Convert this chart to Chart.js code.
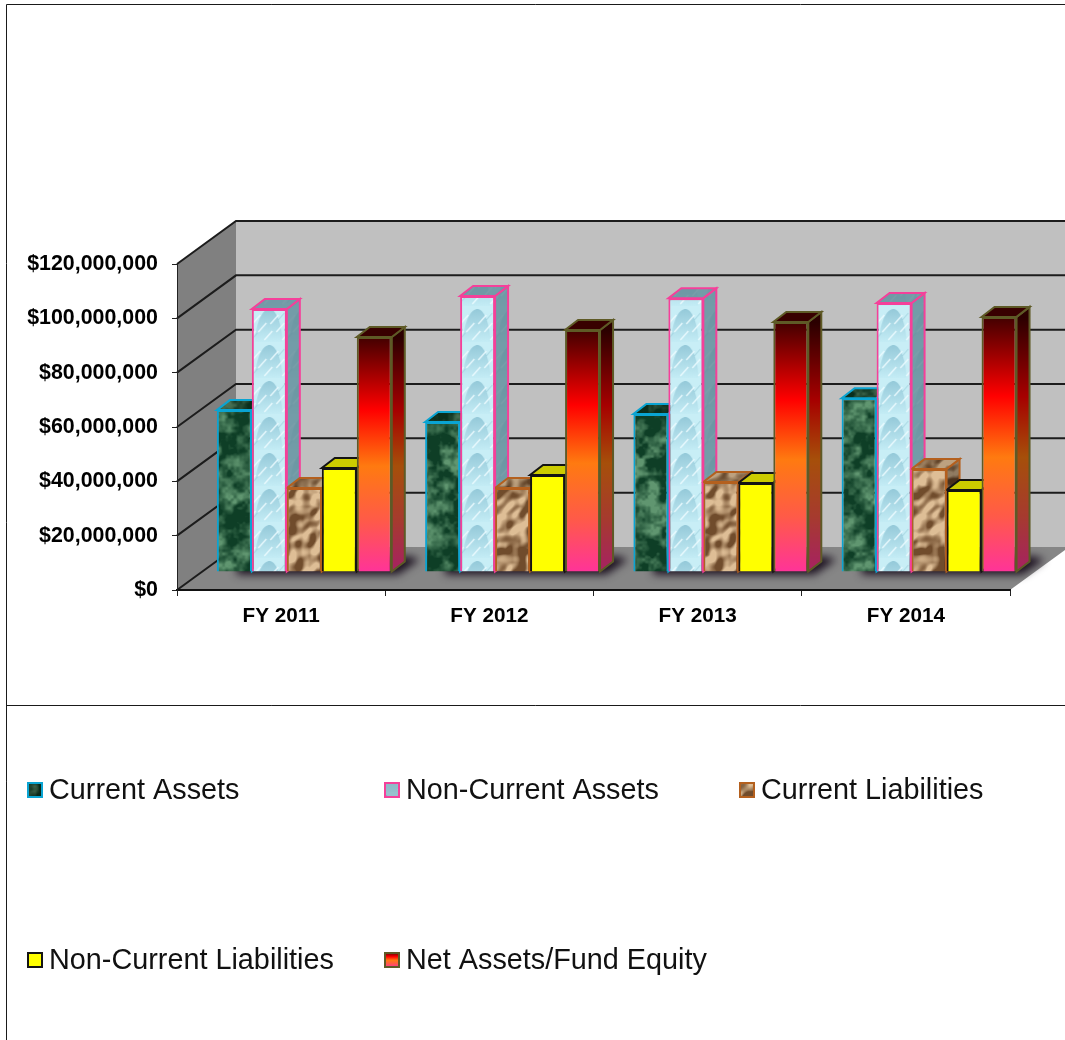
<!DOCTYPE html>
<html>
<head>
<meta charset="utf-8">
<style>html,body{margin:0;padding:0;background:#fff;overflow:hidden}canvas{display:block}</style>
<script src="https://cdn.jsdelivr.net/npm/chart.js@4/dist/chart.umd.js"></script>
</head>
<body>
<canvas id="c" width="1065" height="1040"></canvas>
<script>
const categories = ['FY 2011', 'FY 2012', 'FY 2013', 'FY 2014'];
const currentAssets = [59600000, 55200000, 58200000, 64000000];
const nonCurrentAssets = [96800000, 101600000, 100800000, 99000000];
const currentLiabilities = [30900000, 30900000, 33100000, 37900000];
const nonCurrentLiabilities = [38300000, 35700000, 32800000, 30200000];
const netAssets = [86500000, 89100000, 92000000, 93900000];
const tickValues = [0, 20000000, 40000000, 60000000, 80000000, 100000000, 120000000];
const tickLabels = ['$0', '$20,000,000', '$40,000,000', '$60,000,000', '$80,000,000', '$100,000,000', '$120,000,000'];

// ---- 3D geometry (wall depth and bar offset in pixels)
const WALL = {dx: 59, dy: -43};
const SHIFT = {dx: 23.2, dy: -18};
const DEPTH = {dx: 13, dy: -10};

// ---- procedural textures (deterministic)
function hash(i, j, s) { const v = Math.sin(i * 127.1 + j * 311.7 + s * 74.7) * 43758.5453; return v - Math.floor(v); }
function vnoise(x, y, p, s) {
  const ix = Math.floor(x), iy = Math.floor(y);
  let fx = x - ix, fy = y - iy;
  fx = fx * fx * (3 - 2 * fx); fy = fy * fy * (3 - 2 * fy);
  const m = n => ((n % p) + p) % p;
  const a = hash(m(ix), m(iy), s), b = hash(m(ix + 1), m(iy), s), c = hash(m(ix), m(iy + 1), s), d = hash(m(ix + 1), m(iy + 1), s);
  return (a + (b - a) * fx) * (1 - fy) + (c + (d - c) * fx) * fy;
}
function fbm(u, v, s, base, oct) {
  let sum = 0, amp = 0.5, tot = 0, f = base;
  for (let k = 0; k < oct; k++) { sum += amp * vnoise(u * f, v * f, f, s + k); tot += amp; amp *= 0.6; f *= 2; }
  return sum / tot;
}
function mix(a, b, t) { t = Math.max(0, Math.min(1, t)); return [0, 1, 2].map(i => a[i] + (b[i] - a[i]) * t); }
function pixelTile(w, h, fn) {
  const cv = document.createElement('canvas'); cv.width = w; cv.height = h;
  const g = cv.getContext('2d'), im = g.createImageData(w, h);
  for (let y = 0; y < h; y++) for (let x = 0; x < w; x++) {
    const c = fn(x / w, y / h), o = (y * w + x) * 4;
    im.data[o] = c[0]; im.data[o + 1] = c[1]; im.data[o + 2] = c[2]; im.data[o + 3] = 255;
  }
  g.putImageData(im, 0, 0);
  return cv;
}
const pctx = document.getElementById('c').getContext('2d');
const marbleTile = pixelTile(160, 160, (u, v) => {
  const big = fbm(u, v, 9, 4, 2);
  const n = fbm(u, v, 3, 14, 3);
  const t = (n - 0.36) * 2.6 * (0.35 + 1.1 * big);
  return mix([14, 62, 38], [96, 150, 112], t);
});
const copperTile = pixelTile(140, 140, (u, v) => {
  const e = 1 / 140;
  const f = (a, b) => fbm(a, b, 21, 5, 3);
  const d = (f(u + 2 * e, v + 2 * e) - f(u, v)) * 12;
  return mix([112, 76, 44], [222, 190, 150], 0.56 + d);
});
function waterTile() {
  const cv = document.createElement('canvas'); cv.width = 208; cv.height = 36;
  const g = cv.getContext('2d');
  g.fillStyle = '#C8EEF6'; g.fillRect(0, 0, 208, 36);
  const pw = 208 / 6, phase = 20.2;
  g.filter = 'blur(0.7px)';
  for (let k = -1; k < 7; k++) {
    const x = k * pw + phase, cx = x + pw / 2;
    const gr = g.createLinearGradient(0, 2, 0, 36);
    gr.addColorStop(0, '#93C8D8'); gr.addColorStop(1, '#C4ECF5');
    g.fillStyle = gr;
    g.beginPath(); g.moveTo(cx - 14, 36);
    g.bezierCurveTo(cx - 12, 12, cx - 5, 3, cx + 1, 3);
    g.bezierCurveTo(cx + 8, 4, cx + 13, 18, cx + 14, 36);
    g.closePath(); g.fill();
    g.strokeStyle = 'rgba(238,252,255,0.85)'; g.lineWidth = 1.5;
    for (let s = 0; s < 6; s++) {
      g.beginPath();
      g.moveTo(x + 1 + s * 6, 18 + (s % 3) * 8);
      g.lineTo(x + 9 + s * 6, 9 + (s % 3) * 8);
      g.stroke();
    }
    g.strokeStyle = 'rgba(140,195,212,0.5)'; g.lineWidth = 1.1;
    g.beginPath(); g.moveTo(x + 27, 14); g.lineTo(x + 33, 7); g.moveTo(x + 1, 33); g.lineTo(x + 6, 27); g.stroke();
  }
  return cv;
}
const marble = pctx.createPattern(marbleTile, 'repeat');
const water = pctx.createPattern(waterTile(), 'repeat');
const copper = pctx.createPattern(copperTile, 'repeat');

function flameGradient(ctx2, top, bottom) {
  const g = ctx2.createLinearGradient(0, top, 0, bottom);
  g.addColorStop(0, '#420000');
  g.addColorStop(0.31, '#FF0000');
  g.addColorStop(0.55, '#FF7A10');
  g.addColorStop(0.78, '#FF5A48');
  g.addColorStop(1, '#FF3399');
  return g;
}

const seriesStyle = [
  {side: 'rgba(0,0,0,0.4)', top: 'rgba(0,0,0,0.25)', stroke: '#0AA4D2'},
  {side: 'rgba(96,138,150,0.82)', top: 'rgba(96,138,150,0.82)', stroke: '#F5409A'},
  {side: 'rgba(0,0,0,0.35)', top: 'rgba(0,0,0,0.15)', stroke: '#B4601E'},
  {side: 'rgba(0,0,0,0.3)', top: 'rgba(0,0,0,0.2)', stroke: '#141414'},
  {side: 'rgba(0,0,0,0.35)', top: 'rgba(0,0,0,0.15)', stroke: '#5E5A26'}
];

const walls = {
  id: 'walls',
  beforeDraw(chart) {
    const c = chart.ctx, a = chart.chartArea, y = chart.scales.y;
    const L = a.left, R = a.right, B = a.bottom, T = a.top, W = chart.width;
    const dx = WALL.dx, dy = WALL.dy;
    c.save();
    // back wall
    c.fillStyle = '#C0C0C0';
    c.fillRect(L + dx, T + dy, W - L - dx, B - T);
    // side wall
    c.fillStyle = '#808080';
    c.beginPath(); c.moveTo(L, B); c.lineTo(L, T); c.lineTo(L + dx, T + dy); c.lineTo(L + dx, B + dy); c.closePath(); c.fill();
    // floor
    c.fillStyle = '#868686';
    c.beginPath(); c.moveTo(L, B); c.lineTo(R, B); c.lineTo(R + dx, B + dy); c.lineTo(L + dx, B + dy); c.closePath(); c.fill();
    // grid lines on walls
    c.strokeStyle = '#1c1c1c'; c.lineWidth = 2;
    tickValues.forEach(v => {
      const p = y.getPixelForValue(v);
      c.beginPath(); c.moveTo(L, p); c.lineTo(L + dx, p + dy);
      if (v !== 0) c.lineTo(W, p + dy);
      c.stroke();
    });
    c.restore();
  },
  beforeDatasetsDraw(chart) {
    const c = chart.ctx;
    c.save();
    c.translate(SHIFT.dx, SHIFT.dy);
    const last = chart.data.datasets.length - 1;
    // soft floor shadow of each group
    categories.forEach((_, i) => {
      const a = chart.getDatasetMeta(0).data[i], b = chart.getDatasetMeta(last).data[i];
      const l = a.x - a.width / 2, r = b.x + b.width / 2, base = a.base;
      c.save();
      c.filter = 'blur(4px)';
      c.fillStyle = '#1a0f1e';
      c.beginPath();
      c.moveTo(l + 20, base + 3); c.lineTo(r + 6, base + 3); c.lineTo(r + 28, base - 12); c.lineTo(r + 18, base - 15); c.lineTo(l + 20, base - 15);
      c.closePath(); c.fill();
      c.restore();
    });
    // top and side faces, left to right
    categories.forEach((_, i) => {
      chart.data.datasets.forEach((ds, k) => {
        const el = chart.getDatasetMeta(k).data[i];
        const l = el.x - el.width / 2, r = el.x + el.width / 2, t = el.y, b = el.base;
        const st = seriesStyle[k], dx = DEPTH.dx, dy = DEPTH.dy;
        const face = (pts, shade) => {
          const path = () => { c.beginPath(); pts.forEach((p, n) => n ? c.lineTo(p[0], p[1]) : c.moveTo(p[0], p[1])); c.closePath(); };
          path(); c.fillStyle = el.options.backgroundColor; c.fill();
          path(); c.fillStyle = shade; c.fill();
          path(); c.strokeStyle = st.stroke; c.lineWidth = 2; c.lineJoin = 'miter'; c.stroke();
        };
        face([[r, t], [r + dx, t + dy], [r + dx, b + dy], [r, b]], st.side);
        face([[l, t], [r, t], [r + dx, t + dy], [l + dx, t + dy]], st.top);
      });
    });
  },
  afterDatasetsDraw(chart) { chart.ctx.restore(); },
  afterDraw(chart) {
    const c = chart.ctx;
    c.save();
    // frame lines
    c.strokeStyle = '#1a1a1a'; c.lineWidth = 1;
    c.beginPath();
    c.moveTo(6.5, 1040); c.lineTo(6.5, 4.5); c.lineTo(1065, 4.5);
    c.moveTo(6.5, 705.5); c.lineTo(1065, 705.5);
    c.stroke();
    // legend, in the reference's two rows
    const slots = [[27, 790], [384, 790], [739, 790], [27, 960], [384, 960]];
    c.font = '28.8px "Liberation Sans", Arial, sans-serif';
    c.textBaseline = 'alphabetic'; c.textAlign = 'left';
    chart.data.datasets.forEach((ds, k) => {
      const [x, y] = slots[k];
      const st = seriesStyle[k];
      c.fillStyle = k === 4 ? flameGradient(c, y - 8, y + 7) : ds.backgroundColor;
      c.fillRect(x, y - 8, 16, 16);
      if (k === 0) { c.fillStyle = 'rgba(0,0,0,0.35)'; c.fillRect(x, y - 8, 16, 16); }
      if (k === 1) { c.fillStyle = 'rgba(60,110,130,0.35)'; c.fillRect(x, y - 8, 16, 16); }
      c.strokeStyle = st.stroke; c.lineWidth = 2;
      c.strokeRect(x + 1, y - 7, 14, 14);
      c.fillStyle = '#111';
      c.fillText(ds.label, x + 22, y + 9);
    });
    c.restore();
  }
};

new Chart(document.getElementById('c'), {
  type: 'bar',
  plugins: [walls],
  data: {
    labels: categories,
    datasets: [
      {label: 'Current Assets', data: currentAssets, backgroundColor: marble, borderColor: seriesStyle[0].stroke},
      {label: 'Non-Current Assets', data: nonCurrentAssets, backgroundColor: water, borderColor: seriesStyle[1].stroke},
      {label: 'Current Liabilities', data: currentLiabilities, backgroundColor: copper, borderColor: seriesStyle[2].stroke},
      {label: 'Non-Current Liabilities', data: nonCurrentLiabilities, backgroundColor: '#FFFF00', borderColor: seriesStyle[3].stroke},
      {label: 'Net Assets/Fund Equity', data: netAssets, borderColor: seriesStyle[4].stroke,
        backgroundColor: ctx => {
          if (ctx.type !== 'data') return '#FF0000';
          const y = ctx.chart.scales.y;
          const top = y.getPixelForValue(netAssets[ctx.dataIndex]), bottom = y.getPixelForValue(0);
          if (!isFinite(top) || !isFinite(bottom)) return '#FF0000';
          return flameGradient(ctx.chart.ctx, top, bottom);
        }}
    ].map(d => Object.assign(d, {borderWidth: 2, categoryPercentage: 0.84, barPercentage: 1, clip: false}))
  },
  options: {
    responsive: false,
    animation: false,
    layout: {padding: {left: 0, top: 264, right: 55, bottom: 400}},
    plugins: {legend: {display: false}, title: {display: false}, tooltip: {enabled: false}},
    scales: {
      x: {
        grid: {drawOnChartArea: false, drawTicks: true, tickLength: 6, color: '#222', offset: true},
        border: {display: true, color: '#111', width: 2},
        ticks: {color: '#000', font: {family: '"Liberation Sans", Arial, sans-serif', size: 20.7, weight: 'bold'}, padding: 8, maxRotation: 0, autoSkip: false},
        afterFit(s) { s.height = 50; }
      },
      y: {
        min: 0, max: 120000000,
        afterBuildTicks(s) { s.ticks = tickValues.map(v => ({value: v})); },
        grid: {drawOnChartArea: false, drawTicks: true, tickLength: 5, color: '#222'},
        border: {display: true, color: '#222', width: 1},
        ticks: {color: '#000', font: {family: '"Liberation Sans", Arial, sans-serif', size: 21.4, weight: 'bold'}, padding: 14,
          callback: (v) => tickLabels[tickValues.indexOf(v)]},
        afterFit(s) { s.width = 177; }
      }
    }
  }
});
</script>
</body>
</html>
